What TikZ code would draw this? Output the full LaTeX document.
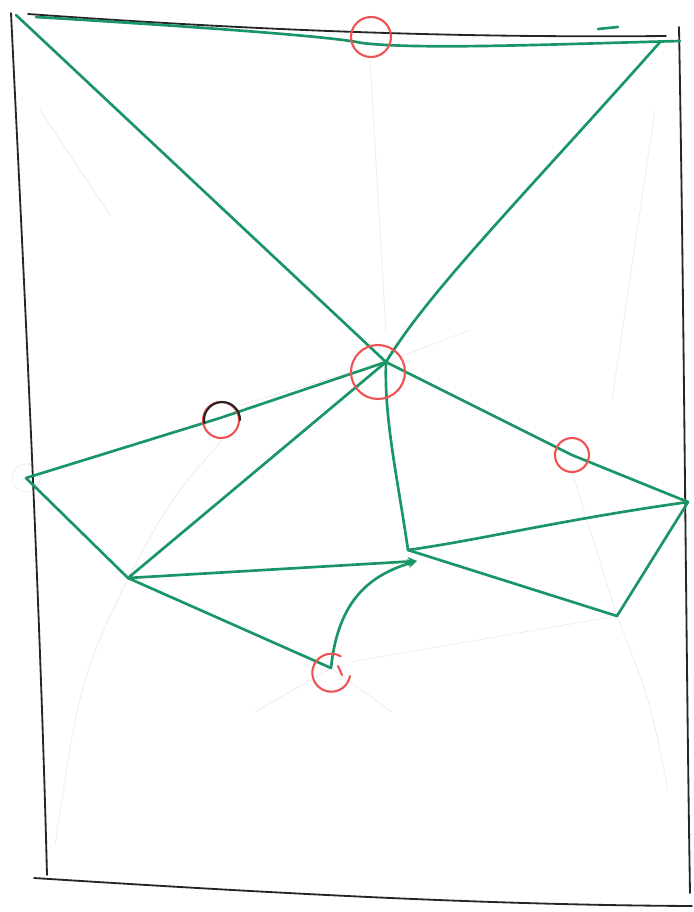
\documentclass[tikz,border=0pt]{standalone}
\usepackage{amsmath}
\usetikzlibrary{calc}

\definecolor{pen}{RGB}{26,150,102}
\definecolor{marker}{RGB}{238,82,82}
\definecolor{pencil}{RGB}{236,236,245}

\tikzset{
  edge/.style={pen, line width=1.9pt},
  frame/.style={black!85, line width=1.3pt},
  guide/.style={pencil, line width=0.6pt},
  ring/.style={circle, draw=marker, line width=1.5pt, inner sep=0pt}
}

\begin{document}
\begin{tikzpicture}[x=0.25mm, y=-0.25mm, >=stealth, line cap=round, line join=round]
			\useasboundingbox (0,0) rectangle (694,912);

			% Các đỉnh
			\coordinate (tl) at (16,15);
			\coordinate (tr) at (661,41);
			\coordinate (hub) at (386,362);
			\coordinate (lft) at (26,478);
			\coordinate (rgt) at (688,502);
			\coordinate (ll) at (128,578);
			\coordinate (mid) at (408,550);
			\coordinate (tip) at (417,561);
			\coordinate (lr) at (617,616);
			\coordinate (bot) at (331,668);

			% Các đường chì mờ
			\draw[guide] (370,60) -- (386,332);
			\draw[guide] (hub) -- (240,405);
			\draw[guide] (hub) -- (470,330);
			\draw[guide] (572,472) -- (lr);
			\draw[guide] (lr) -- (350,662);
			\draw[guide] (lr) .. controls (650,700) .. (668,790);
			\draw[guide] (ll) .. controls (80,680) .. (55,845);
			\draw[guide] (bot) -- (255,712);
			\draw[guide] (bot) -- (392,712);
			\draw[guide] (222,440) .. controls (170,500) .. (ll);
			\draw[guide] (40,110) -- (110,215);
			\draw[guide] (655,110) -- (612,400);
			\draw[guide] (lft) circle (14);

			% Khung
			\draw[frame] (11,13) .. controls (25,300) and (40,600) .. (47,875);
			\draw[frame] (28,14) .. controls (250,30) and (450,38) .. (666,36);
			\draw[frame] (679,27) .. controls (684,300) and (686,650) .. (690,893);
			\draw[frame] (34,878) .. controls (300,895) and (500,905) .. (692,906);

			% Đường xanh phía trên
			\draw[edge] (36,17) .. controls (250,30) and (340,38) .. (362,43)
			  .. controls (420,50) and (560,44) .. (680,41);
			\draw[edge] (598,29) -- (618,27);
			\draw[edge] (tl) -- (hub);
			\draw[edge] (tr) .. controls (520,200) and (430,290) .. (hub);

			% Các cạnh quanh tâm
			\draw[edge] (hub) -- (220,418) -- (lft);
			\draw[edge] (hub) -- (ll);
			\draw[edge] (hub) .. controls (384,420) and (398,480) .. (mid);
			\draw[edge] (hub) -- (572,455) -- (rgt);
			\draw[edge] (rgt) .. controls (560,520) and (480,540) .. (mid);
			\draw[edge] (rgt) -- (lr) -- (mid);
			\draw[edge] (lft) -- (ll);
			\draw[edge] (ll) -- (bot);
			\draw[edge, ->] (ll) -- (tip);
			\draw[edge, ->] (bot) .. controls (338,600) and (370,575) .. (tip);

			% Các vòng đánh dấu
			\node[ring, minimum size=10mm] (ctop) at (371,37) {};
			\node[ring, minimum size=13.5mm] (chub) at (378,372) {};
			\node[ring, minimum size=9mm] (cleft) at (221,420) {};
			\draw[black!85, line width=1.5pt] (cleft.east) arc (0:190:4.5mm);
			\node[ring, minimum size=8.5mm] (cright) at (572,455) {};
			\draw[marker, line width=1.5pt] ($(bot)+(19,8)$) arc (10:300:19);
			\draw[marker, line width=1.5pt] ($(bot)+(7,-2)$) -- ($(bot)+(11,7)$);
		\end{tikzpicture}
\end{document}
